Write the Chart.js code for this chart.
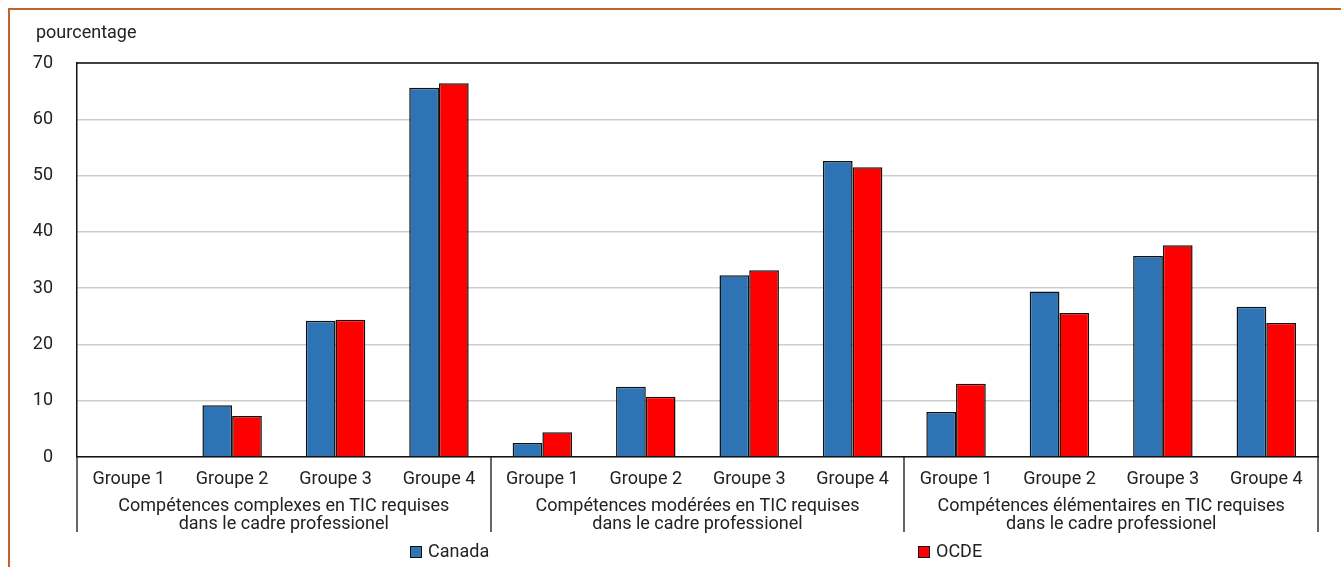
<!DOCTYPE html>
<html>
<head>
<meta charset="utf-8">
<script src="https://cdn.jsdelivr.net/npm/chart.js@4.4.1/dist/chart.umd.min.js"></script>
<style>
  html, body { margin: 0; padding: 0; background: #fff; }
  #wrap { position: relative; width: 1341px; height: 567px; overflow: hidden; }
  #frame { position: absolute; left: 8px; top: 8px; right: -4px; bottom: -4px;
           border-left: 2px solid #c5622a; border-top: 2px solid #c5622a; }
  canvas { position: absolute; left: 0; top: 0; }
</style>
</head>
<body>
<div id="wrap">
  <div id="frame"></div>
  <canvas id="chart" width="1341" height="567"></canvas>
</div>
<script>
'use strict';

var categories = [
    'Groupe 1', 'Groupe 2', 'Groupe 3', 'Groupe 4',
    'Groupe 1', 'Groupe 2', 'Groupe 3', 'Groupe 4',
    'Groupe 1', 'Groupe 2', 'Groupe 3', 'Groupe 4'
];
var groupLabels = [
    ['Compétences complexes en TIC requises', 'dans le cadre professionel'],
    ['Compétences modérées en TIC requises', 'dans le cadre professionel'],
    ['Compétences élémentaires en TIC requises', 'dans le cadre professionel']
];
var seriesNames = ['Canada', 'OCDE'];
var canadaValues = [0, 9.2, 24.2, 65.6, 2.5, 12.5, 32.3, 52.6, 8.0, 29.4, 35.7, 26.7];
var ocdeValues = [0, 7.3, 24.4, 66.4, 4.4, 10.7, 33.2, 51.5, 13.0, 25.6, 37.6, 23.8];
var yTicks = [0, 10, 20, 30, 40, 50, 60, 70];
var yAxisTitle = 'pourcentage';

var FONT = 'Roboto, "Liberation Sans", Arial, sans-serif';
var TEXT = '#222222';
var colors = ['#2e74b5', '#ff0000'];

/**
 * Extra drawing: plot frame, group separators, group labels, axis title, legend
 */
var decorations = {
    id: 'decorations',
    afterDraw: function (chart) {
        var ctx = chart.ctx;
        var area = chart.chartArea;
        var x = chart.scales.x;
        var perGroup = categories.length / groupLabels.length;

        ctx.save();
        ctx.strokeStyle = '#111';
        ctx.lineWidth = 1.5;
        ctx.beginPath();
        ctx.moveTo(area.left, area.top);
        ctx.lineTo(area.right, area.top);
        ctx.lineTo(area.right, area.bottom);
        ctx.stroke();

        // group separators
        ctx.strokeStyle = '#333';
        ctx.lineWidth = 1.5;
        for (var g = 0; g <= groupLabels.length; g++) {
            var sx = Math.round(x.getPixelForValue(g * perGroup - 0.5));
            ctx.beginPath();
            ctx.moveTo(sx, area.bottom);
            ctx.lineTo(sx, area.bottom + 75);
            ctx.stroke();
        }

        // group labels
        ctx.fillStyle = TEXT;
        ctx.font = '18px ' + FONT;
        ctx.textAlign = 'center';
        ctx.textBaseline = 'middle';
        groupLabels.forEach(function (lines, i) {
            var cx = (x.getPixelForValue(i * perGroup - 0.5) + x.getPixelForValue((i + 1) * perGroup - 0.5)) / 2;
            lines.forEach(function (line, j) {
                ctx.fillText(line, cx, area.bottom + 49 + j * 18);
            });
        });

        // y axis title
        ctx.textAlign = 'left';
        ctx.fillText(yAxisTitle, 36, 33);

        // legend
        var legendX = [410, 918];
        chart.data.datasets.forEach(function (ds, i) {
            ctx.fillStyle = ds.backgroundColor;
            ctx.fillRect(legendX[i], 546, 11, 11);
            ctx.strokeStyle = '#111';
            ctx.lineWidth = 1;
            ctx.strokeRect(legendX[i] + 0.5, 546.5, 11, 11);
            ctx.fillStyle = TEXT;
            ctx.fillText(ds.label, legendX[i] + 18, 552);
        });
        ctx.restore();
    }
};

new Chart(document.getElementById('chart').getContext('2d'), {
    type: 'bar',
    data: {
        labels: categories,
        datasets: [
            { label: seriesNames[0], data: canadaValues, backgroundColor: colors[0] },
            { label: seriesNames[1], data: ocdeValues, backgroundColor: colors[1] }
        ]
    },
    options: {
        responsive: false,
        animation: false,
        layout: { padding: { left: 0, top: 63, right: 23, bottom: 0 } },
        datasets: {
            bar: {
                categoryPercentage: 0.575,
                barPercentage: 1,
                borderColor: '#111111',
                borderWidth: 1.5
            }
        },
        plugins: {
            legend: { display: false },
            tooltip: { enabled: false }
        },
        scales: {
            x: {
                grid: { display: false, drawTicks: false },
                border: { color: '#111', width: 1.5 },
                ticks: { color: TEXT, font: { family: FONT, size: 18 }, padding: 12, maxRotation: 0, autoSkip: false },
                afterFit: function (scale) { scale.height = 110; }
            },
            y: {
                min: 0,
                max: 70,
                afterBuildTicks: function (scale) {
                    scale.ticks = yTicks.map(function (v) { return { value: v }; });
                },
                grid: { color: '#cdcdcd', lineWidth: 1.5, drawTicks: false },
                border: { color: '#111', width: 1.5 },
                ticks: { color: TEXT, font: { family: FONT, size: 18 }, padding: 24 },
                afterFit: function (scale) { scale.width = 77; }
            }
        }
    },
    plugins: [decorations]
});
</script>
</body>
</html>
